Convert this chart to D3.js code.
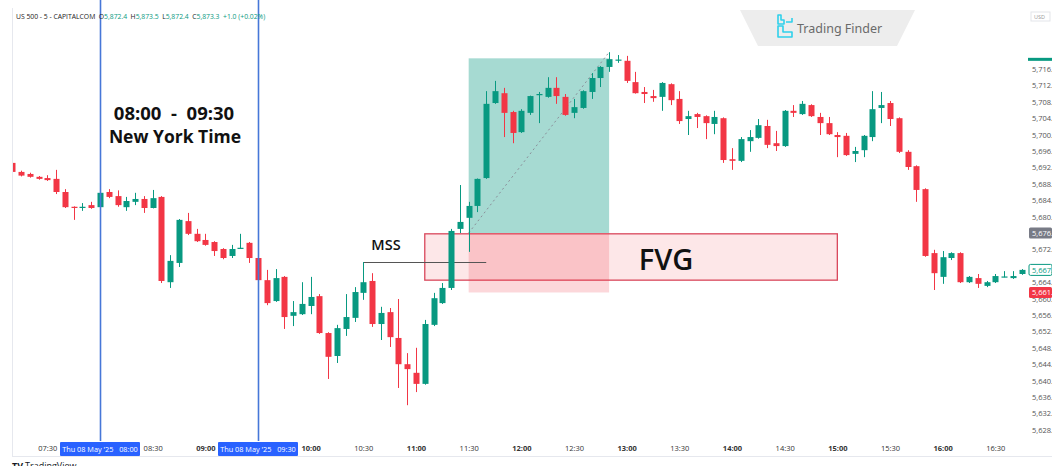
<!DOCTYPE html>
<html><head><meta charset="utf-8">
<script src="https://cdn.jsdelivr.net/npm/d3@7"></script>
<style>
body{margin:0;background:#fff;}
svg{display:block;font-family:"Open Sans",sans-serif;}
</style>
</head><body>
<svg id="c" width="1052" height="466"></svg>
<script>
const times = ["07:10","07:15","07:20","07:25","07:30","07:35","07:40","07:45","07:50","07:55",
"08:00","08:05","08:10","08:15","08:20","08:25","08:30","08:35","08:40","08:45","08:50","08:55",
"09:00","09:05","09:10","09:15","09:20","09:25","09:30","09:35","09:40","09:45","09:50","09:55",
"10:00","10:05","10:10","10:15","10:20","10:25","10:30","10:35","10:40","10:45","10:50","10:55",
"11:00","11:05","11:10","11:15","11:20","11:25","11:30","11:35","11:40","11:45","11:50","11:55",
"12:00","12:05","12:10","12:15","12:20","12:25","12:30","12:35","12:40","12:45","12:50","12:55",
"13:00","13:05","13:10","13:15","13:20","13:25","13:30","13:35","13:40","13:45","13:50","13:55",
"14:00","14:05","14:10","14:15","14:20","14:25","14:30","14:35","14:40","14:45","14:50","14:55",
"15:00","15:05","15:10","15:15","15:20","15:25","15:30","15:35","15:40","15:45","15:50","15:55",
"16:00","16:05","16:10","16:15","16:20","16:25","16:30","16:35","16:40","16:45"];

const open = [5693.1,5690.9,5690.4,5689.7,5689.4,5689.2,5686.0,5682.4,5682.1,5682.8,
5682.3,5686.0,5685.0,5682.3,5683.6,5684.3,5682.1,5684.8,5664.0,5668.7,5678.9,5675.8,
5674.3,5673.8,5672.1,5670.4,5672.2,5673.6,5669.9,5664.5,5659.4,5665.3,5655.8,5656.2,
5658.2,5660.6,5651.6,5646.0,5652.6,5655.3,5661.4,5664.3,5653.8,5656.7,5650.4,5644.0,
5641.9,5639.2,5653.6,5658.9,5662.6,5677.0,5679.7,5682.6,5689.4,5707.7,5710.1,5705.5,
5700.6,5705.3,5709.7,5709.2,5711.4,5709.2,5705.3,5706.5,5710.4,5713.8,5716.5,5718.2,
5718.0,5712.8,5710.4,5709.4,5709.2,5712.3,5708.7,5703.8,5705.0,5704.5,5702.6,5704.0,
5694.0,5693.6,5698.4,5699.2,5702.1,5697.9,5697.2,5705.8,5705.0,5707.2,5704.3,5702.8,
5699.9,5699.7,5695.3,5696.2,5699.4,5706.5,5707.7,5704.0,5695.8,5692.3,5686.7,5671.1,
5665.3,5669.9,5671.1,5664.0,5665.0,5663.1,5664.0,5665.3,5665.0,5666.0];

const high = [5693.6,5691.2,5690.7,5689.9,5690.1,5691.4,5686.7,5682.5,5683.3,5683.6,
5685.9,5686.7,5686.4,5684.8,5685.8,5685.0,5686.5,5685.0,5670.6,5679.4,5680.9,5677.0,
5675.8,5674.0,5672.3,5673.1,5675.8,5673.8,5673.6,5667.0,5667.2,5665.5,5659.4,5664.0,
5665.3,5661.1,5651.8,5653.6,5661.1,5662.8,5668.9,5666.2,5658.0,5657.7,5659.9,5646.7,
5648.0,5654.8,5661.4,5663.8,5677.0,5687.7,5683.6,5689.3,5710.6,5713.1,5711.4,5705.8,
5706.2,5709.5,5710.4,5714.0,5714.0,5709.9,5708.7,5710.8,5715.0,5716.7,5720.1,5719.4,
5719.2,5715.3,5711.6,5710.9,5712.8,5712.5,5710.6,5705.8,5705.3,5704.7,5705.8,5704.2,
5696.7,5699.4,5701.1,5703.8,5703.6,5700.9,5706.0,5707.2,5708.2,5707.4,5705.3,5704.3,
5700.6,5700.4,5697.0,5699.9,5710.6,5710.4,5708.2,5704.2,5696.2,5692.5,5686.9,5671.9,
5671.6,5671.3,5671.3,5665.5,5666.0,5664.3,5666.0,5666.7,5666.7,5667.2];

const low = [5690.6,5689.8,5689.5,5689.0,5688.7,5685.5,5682.1,5679.2,5681.4,5681.9,
5682.1,5684.5,5682.4,5681.4,5682.8,5680.9,5682.0,5663.8,5662.6,5667.7,5675.5,5673.8,
5672.9,5670.4,5669.6,5669.9,5672.1,5668.7,5663.3,5658.4,5659.2,5652.6,5653.3,5656.0,
5656.2,5651.4,5640.4,5644.3,5650.9,5654.3,5659.7,5653.1,5649.9,5648.2,5638.2,5634.0,
5637.2,5639.0,5653.3,5658.7,5662.1,5676.0,5671.4,5681.1,5689.2,5707.5,5699.4,5697.9,
5700.4,5704.8,5702.8,5709.0,5707.5,5704.6,5704.0,5706.3,5708.7,5711.6,5715.3,5717.5,
5712.6,5710.0,5707.7,5708.0,5705.8,5707.2,5702.6,5699.9,5701.6,5698.9,5700.1,5693.1,
5691.4,5693.3,5695.8,5699.0,5696.7,5696.0,5697.0,5704.3,5704.8,5704.3,5699.9,5699.9,
5694.5,5694.8,5693.3,5694.5,5698.4,5702.8,5702.1,5695.5,5691.4,5683.6,5670.2,5662.1,
5663.6,5669.4,5663.8,5663.8,5662.6,5662.8,5663.8,5665.2,5664.8,5665.8];

const close = [5690.9,5690.0,5689.7,5689.2,5688.9,5686.0,5682.3,5682.1,5682.4,5682.1,
5685.8,5684.8,5682.8,5683.8,5684.3,5682.1,5684.5,5664.3,5669.2,5679.2,5675.8,5674.0,
5673.1,5671.6,5669.9,5672.1,5672.4,5669.9,5664.5,5658.9,5665.0,5655.5,5656.7,5658.7,
5660.4,5651.6,5645.8,5652.8,5655.5,5661.6,5664.0,5653.8,5656.5,5650.6,5644.0,5642.8,
5639.2,5653.8,5660.1,5662.6,5676.5,5678.7,5682.6,5689.2,5707.5,5710.6,5705.3,5700.4,
5705.8,5709.4,5709.9,5711.4,5709.4,5704.8,5706.7,5710.6,5713.8,5716.5,5718.4,5718.3,
5713.1,5710.1,5709.9,5708.9,5712.6,5708.4,5703.3,5704.5,5704.3,5702.8,5704.3,5693.8,
5693.6,5698.9,5699.4,5702.3,5697.5,5697.2,5705.8,5705.3,5707.5,5704.5,5702.8,5700.1,
5699.4,5695.0,5696.0,5699.7,5706.2,5707.2,5703.8,5695.8,5692.1,5686.5,5670.4,5666.2,
5670.1,5671.1,5664.0,5665.3,5663.6,5664.0,5665.5,5665.4,5665.5,5667.0];

const priceTicks = [5628,5632,5636,5640,5644,5648,5652,5656,5660,5664,5672,
5680,5684,5688,5692,5696,5700,5704,5708,5712,5716];
const timeTicks = ["07:30","08:30","09:00","10:00","10:30","11:00","11:30","12:00","12:30",
"13:00","13:30","14:00","14:30","15:00","15:30","16:00","16:30"];
const sessionTimes = ["08:00","09:30"];
const sessionLabels = ["Thu 08 May '25   08:00","Thu 08 May '25   09:30"];
const positionTimes = ["11:30","12:50"];
const positionPrices = [5718.6, 5676.0, 5661.5]; // target, entry, stop
const fvgTimes = ["11:05","15:00"];
const fvgPrices = [5675.8, 5664.5];
const mssTimes = ["10:30","11:40"];
const mssPrice = 5668.9;
const lastPrice = 5667.0;

const parse = d3.timeParse("%H:%M");
const svg = d3.select("#c");
const W = 1052, H = 466;
const plotL = 12, plotR = 1027, plotB = 441;

const x = d3.scaleTime().domain([parse("08:00"), parse("09:30")]).range([100, 258]);
const y = d3.scaleLinear().domain([5628, 5716]).range([429.8, 69]);

const UP = "#089981", DN = "#f23645";

svg.append("rect").attr("width", W).attr("height", H).attr("fill", "#fff");

// frame
svg.append("line").attr("x1", plotL + 0.5).attr("x2", plotL + 0.5).attr("y1", 8).attr("y2", 456)
  .attr("stroke", "#e6e8ee");
svg.append("line").attr("x1", plotL).attr("x2", W).attr("y1", 456.5).attr("y2", 456.5)
  .attr("stroke", "#e6e8ee");

const defs = svg.append("defs");
defs.append("clipPath").attr("id", "plot").append("rect")
  .attr("x", plotL + 1).attr("y", 0).attr("width", plotR - plotL - 1).attr("height", plotB);

const g = svg.append("g").attr("clip-path", "url(#plot)");

// FVG box
const fx0 = x(parse(fvgTimes[0])), fx1 = x(parse(fvgTimes[1]));
g.append("rect").attr("x", fx0).attr("y", y(fvgPrices[0]))
  .attr("width", fx1 - fx0).attr("height", y(fvgPrices[1]) - y(fvgPrices[0]))
  .attr("fill", "rgba(242,54,69,0.12)").attr("stroke", "#d9475b").attr("stroke-width", 1.3);

// position tool
const px0 = x(parse(positionTimes[0])), px1 = x(parse(positionTimes[1]));
g.append("rect").attr("x", px0).attr("y", y(positionPrices[0]))
  .attr("width", px1 - px0).attr("height", y(positionPrices[1]) - y(positionPrices[0]))
  .attr("fill", "rgba(8,153,129,0.36)");
g.append("rect").attr("x", px0).attr("y", y(positionPrices[1]))
  .attr("width", px1 - px0).attr("height", y(positionPrices[2]) - y(positionPrices[1]))
  .attr("fill", "rgba(242,54,69,0.2)");
g.append("line").attr("x1", px0).attr("y1", y(positionPrices[1]))
  .attr("x2", px1).attr("y2", y(high[times.indexOf(positionTimes[1])]))
  .attr("stroke", "#8a8f99").attr("stroke-width", 1).attr("stroke-dasharray", "2,3");

// MSS line
g.append("line").attr("x1", x(parse(mssTimes[0]))).attr("x2", x(parse(mssTimes[1])))
  .attr("y1", Math.round(y(mssPrice)) + 0.5).attr("y2", Math.round(y(mssPrice)) + 0.5)
  .attr("stroke", "#555").attr("stroke-width", 1);

// session vertical lines
sessionTimes.forEach(t => {
  const xx = Math.round(x(parse(t))) + 0.5;
  svg.append("line").attr("x1", xx).attr("x2", xx).attr("y1", 0).attr("y2", plotB)
    .attr("stroke", "#4677d8").attr("stroke-width", 1.6);
});

// candles
const data = times.map((t, i) => ({t: parse(t), o: open[i], h: high[i], l: low[i], c: close[i]}));
const bw = 6;
const cg = g.append("g");
data.forEach(d => {
  const cx = x(d.t);
  const col = d.c >= d.o ? UP : DN;
  const wx = Math.round(cx) + 0.5;
  cg.append("line").attr("x1", wx).attr("x2", wx).attr("y1", y(d.h)).attr("y2", y(d.l))
    .attr("stroke", col).attr("stroke-width", 1);
  const top = y(Math.max(d.o, d.c)), bot = y(Math.min(d.o, d.c));
  cg.append("rect").attr("x", Math.round(cx) - bw / 2 + 0.5).attr("y", top)
    .attr("width", bw).attr("height", Math.max(1.2, bot - top)).attr("fill", col);
});

// texts
svg.append("text").attr("x", 174).attr("y", 120).attr("text-anchor", "middle")
  .attr("font-size", 18.5).attr("font-weight", 700).attr("fill", "#111")
  .style("white-space", "pre").text("08:00  -  09:30");
svg.append("text").attr("x", 175).attr("y", 143).attr("text-anchor", "middle")
  .attr("font-size", 17.5).attr("font-weight", 700).attr("fill", "#111").text("New York Time");
svg.append("text").attr("x", 386).attr("y", 250).attr("text-anchor", "middle")
  .attr("font-size", 14.5).attr("font-weight", 600).attr("fill", "#111").text("MSS");
svg.append("text").attr("x", 666).attr("y", 270).attr("text-anchor", "middle")
  .attr("font-size", 29).attr("font-weight", 600).attr("fill", "#111").text("FVG");

// price axis
const yAxis = d3.axisRight(y).tickValues(priceTicks).tickSize(0).tickPadding(5)
  .tickFormat(d3.format(",.1f"));
const ya = svg.append("g").attr("transform", `translate(${plotR},0)`).call(yAxis);
ya.select(".domain").remove();
ya.selectAll("text").attr("font-size", 7.5).attr("fill", "#555")
  .attr("font-family", "'Open Sans',sans-serif");

// axis price labels
function priceTag(p, fill, stroke, txt) {
  const yy = y(p);
  svg.append("rect").attr("x", plotR + 2).attr("y", yy - 5.5).attr("width", W - plotR - 2).attr("height", 11)
    .attr("fill", fill).attr("stroke", stroke).attr("rx", 1.5);
  svg.append("text").attr("x", plotR + 5).attr("y", yy + 2.7).attr("font-size", 7.5)
    .attr("fill", txt).text(d3.format(",.1f")(p));
}
priceTag(positionPrices[1], "#787b86", "none", "#fff");
priceTag(lastPrice, "#fff", UP, UP);
priceTag(positionPrices[2], DN, "none", "#fff");
svg.append("rect").attr("x", plotR + 1).attr("y", y(positionPrices[0]) - 0.5).attr("width", W - plotR)
  .attr("height", 3).attr("fill", UP);

// time axis
const xAxis = d3.axisBottom(x).tickValues(timeTicks.map(parse)).tickSize(0).tickPadding(5)
  .tickFormat(d3.timeFormat("%H:%M"));
const xa = svg.append("g").attr("transform", `translate(0,${plotB})`).call(xAxis);
xa.select(".domain").remove();
xa.selectAll("text").attr("font-size", 7.5).attr("fill", "#333")
  .attr("font-family", "'Open Sans',sans-serif")
  .attr("font-weight", (d) => d.getMinutes() === 0 ? 700 : 400);

sessionTimes.forEach((t, i) => {
  const xx = x(parse(t));
  svg.append("rect").attr("x", xx - 40).attr("y", 442).attr("width", 80).attr("height", 14)
    .attr("fill", "#2962ff").attr("rx", 1);
  svg.append("text").attr("x", xx).attr("y", 451.8).attr("text-anchor", "middle")
    .attr("font-size", 7.3).attr("fill", "#fff").style("white-space", "pre").text(sessionLabels[i]);
});

// header
const hdr = svg.append("text").attr("x", 16).attr("y", 19).attr("font-size", 6.8).attr("fill", "#222")
  .style("white-space", "pre");
hdr.append("tspan").text("US 500 - 5 - CAPITALCOM  ");
[["O","5,872.4"],["H","5,873.5"],["L","5,872.4"],["C","5,873.3"]].forEach(([k, v], i) => {
  hdr.append("tspan").attr("fill", "#222").text((i ? "  " : "") + k);
  hdr.append("tspan").attr("fill", UP).text(v);
});
hdr.append("tspan").attr("fill", UP).text("  +1.0 (+0.02%)");

// USD box top right
svg.append("rect").attr("x", 1031).attr("y", 12).attr("width", 19).attr("height", 9)
  .attr("fill", "#fff").attr("stroke", "#e3e5ea");
svg.append("text").attr("x", 1034).attr("y", 19).attr("font-size", 5.5).attr("fill", "#999").text("USD");

// Trading Finder logo
svg.append("path").attr("d", "M740,10 L915,10 L897,46 L758,46 Z").attr("fill", "#ededed");
svg.append("path").attr("d", "M778,15 v9 h6 v-4 h-3 v-5 Z M778,26 v11 h14 v-5 h-9 v-6 Z M786,22 h6 v-4")
  .attr("fill", "none").attr("stroke", "#2fd0ea").attr("stroke-width", 1.6).attr("stroke-linejoin", "round");
svg.append("text").attr("x", 797).attr("y", 32.5).attr("font-size", 12.5).attr("fill", "#6a6a6a")
  .attr("font-family", "'Noto Sans',sans-serif").text("Trading Finder");

// TradingView footer
svg.append("text").attr("x", 12).attr("y", 469).attr("font-size", 9).attr("font-weight", 700)
  .attr("fill", "#131722").text("TV");
svg.append("text").attr("x", 25).attr("y", 469).attr("font-size", 9).attr("fill", "#131722").text("TradingView");
</script>
</body></html>
